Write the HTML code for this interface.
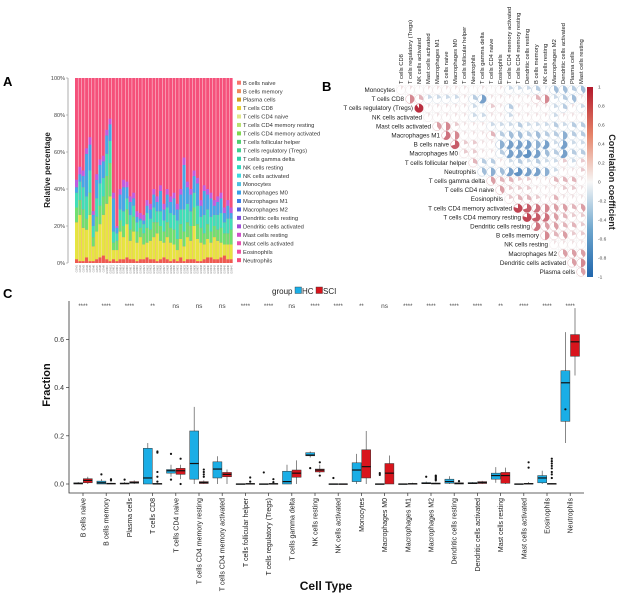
<!DOCTYPE html>
<html><head><meta charset="utf-8"><style>
html,body{margin:0;padding:0;background:#fff;}
svg{display:block;font-family:"Liberation Sans",sans-serif;}
</style></head><body>
<svg id="fig" width="617" height="596" viewBox="0 0 617 596" xmlns="http://www.w3.org/2000/svg">
<text x="3" y="86" font-size="13" font-weight="bold">A</text>
<text x="322" y="91" font-size="13" font-weight="bold">B</text>
<text x="3" y="298" font-size="13" font-weight="bold">C</text>
<g id="pa"></g>
<g id="pb"></g>
<g id="pc"></g>
</svg>
<script>
// ---------- Panel A data ----------
const legendA = ["B cells naive","B cells memory","Plasma cells","T cells CD8","T cells CD4 naive","T cells CD4 memory resting","T cells CD4 memory activated","T cells follicular helper","T cells regulatory (Tregs)","T cells gamma delta","NK cells resting","NK cells activated","Monocytes","Macrophages M0","Macrophages M1","Macrophages M2","Dendritic cells resting","Dendritic cells activated","Mast cells resting","Mast cells activated","Eosinophils","Neutrophils"];
const redA = [2,1,1,3,1,1,2,3,4,2,1,2,1,2,2,3,2,2,1,2,2,3,2,2,1,2,3,2,1,2,1,3,1,2,2,2,1,1,2,3,3,2,2,3,4,2,2];
const yellowA = [20,25,18,15,25,8,15,18,22,30,35,5,6,15,12,18,10,15,10,12,8,8,10,12,15,10,8,12,10,8,6,10,8,12,10,18,12,10,8,10,8,12,10,8,6,8,8];
const greenA = [8,8,10,6,12,5,8,10,10,15,18,4,5,6,6,8,6,8,6,5,6,8,6,8,6,8,6,8,8,8,6,8,8,8,8,10,8,8,6,8,6,6,6,8,6,6,8];
const tealA = [8,10,12,12,12,6,10,12,10,12,12,6,4,6,8,6,8,6,5,4,5,8,6,8,6,8,6,8,8,8,10,8,12,10,8,8,10,6,10,8,8,6,8,8,6,8,6];
const blueA = [3,4,6,23,14,6,10,10,9,10,9,18,3,8,13,6,7,4,3,1,2,4,5,7,5,11,6,7,6,9,6,8,24,9,9,9,12,6,13,8,10,5,7,8,5,7,3];
const purpleA = [4,4,3,3,4,2,3,3,3,3,3,3,1,3,4,3,3,3,3,3,3,3,3,3,3,3,3,3,3,3,3,3,4,3,3,3,3,3,3,3,3,3,3,3,3,3,3];
const ticksA = ["0%","20%","40%","60%","80%","100%"];

// ---------- Panel B data ----------
const corrVars = ["Monocytes","T cells CD8","T cells regulatory (Tregs)","NK cells activated","Mast cells activated","Macrophages M1","B cells naive","Macrophages M0","T cells follicular helper","Neutrophils","T cells gamma delta","T cells CD4 naive","Eosinophils","T cells CD4 memory activated","T cells CD4 memory resting","Dendritic cells resting","B cells memory","NK cells resting","Macrophages M2","Dendritic cells activated","Plasma cells","Mast cells resting"];
const corrRows = [
[0.1,0.1,0.05,0.1,0.1,0.1,0.1,0.1,0.05,0.1,0.05,0.1,-0.2,-0.2,-0.2,-0.3,-0.1,-0.4,-0.4,-0.3,-0.4],
[0.5,0.3,-0.2,-0.2,-0.2,-0.2,0.1,-0.3,-0.6,0.1,0.1,0.1,0.1,0.1,0.3,0.5,-0.2,-0.3,-0.4,0.1],
[0.9,0.1,0.1,0.1,0.1,0.1,-0.2,-0.1,0.2,0.1,-0.3,0.1,0.1,0.1,0.1,-0.2,-0.3,0.1,-0.2],
[0.1,0.1,0.1,0.1,0.1,-0.2,-0.2,0.1,0.1,-0.2,0.1,0.1,0.1,0.1,-0.2,0.1,0.1,0.1],
[0.4,0.5,0.2,0.1,0.1,0.1,-0.2,-0.2,-0.2,-0.3,-0.2,-0.2,-0.2,-0.3,-0.2,-0.3,-0.3],
[0.6,0.5,0.1,0.1,0.1,0.3,-0.3,-0.4,-0.4,-0.3,-0.4,-0.3,-0.3,-0.5,-0.3,-0.3],
[0.7,0.2,0.2,0.1,0.1,-0.5,-0.6,-0.6,-0.6,-0.5,-0.6,-0.2,-0.6,-0.2,-0.2],
[0.2,0.2,0.1,0.1,-0.3,-0.6,-0.6,-0.7,-0.6,-0.4,-0.3,-0.6,-0.3,-0.3],
[0.3,-0.3,-0.3,0.1,-0.2,-0.3,-0.2,-0.3,-0.2,-0.2,0.2,-0.2,0.2],
[-0.4,-0.5,-0.4,-0.6,-0.7,-0.6,-0.6,-0.5,-0.2,0.1,0.1,0.2],
[0.4,0.3,0.3,0.2,0.2,0.1,0.1,0.3,0.3,0.3,0.1],
[0.4,0.2,0.2,0.2,0.1,0.1,0.1,0.2,0.2,0.1],
[0.2,0.3,0.3,0.2,0.1,0.3,0.1,0.1,0.1],
[0.8,0.7,0.6,0.5,0.4,0.4,0.3,0.4],
[0.8,0.7,0.6,0.4,0.3,0.2,0.2],
[0.6,0.4,0.4,0.3,0.3,0.2],
[0.5,0.3,0.4,0.2,0.2],
[0.1,0.1,0.1,0.1],
[0.4,0.4,0.4],
[0.4,0.5],
[0.4]
];
const cbTicks = ["1","0.8","0.6","0.4","0.2","0","-0.2","-0.4","-0.6","-0.8","-1"];

// ---------- Panel C data ----------
const cellTypes = ["B cells naive","B cells memory","Plasma cells","T cells CD8","T cells CD4 naive","T cells CD4 memory resting","T cells CD4 memory activated","T cells follicular helper","T cells regulatory (Tregs)","T cells gamma delta","NK cells resting","NK cells activated","Monocytes","Macrophages M0","Macrophages M1","Macrophages M2","Dendritic cells resting","Dendritic cells activated","Mast cells resting","Mast cells activated","Eosinophils","Neutrophils"];
const sigLabels = ["****","****","****","**","ns","ns","ns","****","****","ns","****","****","**","ns","****","****","****","****","**","****","****","****"];
const hcStats = [[0,0,0.002,0.005,0.008],[0,0,0.005,0.012,0.02],[0,0,0.002,0.004,0.008],[0,0,0.025,0.148,0.17],[0.03,0.045,0.055,0.06,0.08],[0,0.02,0.085,0.22,0.32],[0,0.025,0.062,0.092,0.115],[0,0,0,0.001,0.002],[0,0,0,0.001,0.002],[0,0,0.01,0.053,0.08],[0.11,0.117,0.12,0.13,0.135],[0,0,0,0.001,0.002],[0,0.01,0.058,0.088,0.125],[0,0,0,0.001,0.002],[0,0,0,0.001,0.002],[0,0.001,0.003,0.006,0.01],[0,0.003,0.01,0.02,0.032],[0,0.001,0.003,0.006,0.008],[0.005,0.02,0.035,0.045,0.07],[0,0,0,0.001,0.002],[0,0.005,0.025,0.035,0.055],[0.17,0.26,0.42,0.47,0.63]];
const sciStats = [[0,0.005,0.015,0.022,0.03],[0,0,0.002,0.003,0.005],[0,0.003,0.006,0.01,0.015],[0,0,0.001,0.002,0.003],[0.02,0.04,0.055,0.065,0.08],[0,0.002,0.006,0.01,0.015],[0,0.03,0.04,0.048,0.06],[0,0,0.001,0.002,0.004],[0,0,0.001,0.002,0.003],[0,0.028,0.045,0.058,0.098],[0.045,0.05,0.058,0.062,0.08],[0,0,0,0.001,0.001],[0,0.025,0.072,0.142,0.22],[0,0,0.045,0.085,0.118],[0,0,0.001,0.002,0.005],[0,0,0.002,0.004,0.006],[0,0,0.002,0.005,0.008],[0,0.002,0.006,0.01,0.013],[0,0.003,0.035,0.048,0.068],[0,0,0.001,0.003,0.008],[0,0,0.001,0.002,0.003],[0.45,0.53,0.59,0.62,0.73]];
const hcOut = [[],[0.04],[0.018],[],[0.125,0.018],[],[],[],[0.048],[],[0.066],[0.025],[],[0.045,0.038],[],[0.03],[],[],[],[],[],[0.31]];
const sciOut = [[],[0.02,0.015],[],[0.13,0.135,0.05,0.03,0.01],[0.105,0],[0.06,0.05,0.04,0.03],[],[0.027,0.01],[0.02,0.008],[],[0.09,0.035],[],[],[],[],[0.035,0.03,0.025,0.02,0.015],[0.012],[],[],[0.09,0.068],[0.105,0.095,0.085,0.075,0.065,0.05,0.04,0.025],[]];
const ticksC = [0,0.2,0.4,0.6];

const NS="http://www.w3.org/2000/svg";
function mk(tag, attrs, parent){const e=document.createElementNS(NS,tag);for(const k in attrs)e.setAttribute(k,attrs[k]);parent.appendChild(e);return e;}

// ===== Panel A =====
(function(){
  const g=document.getElementById('pa');
  const x0=75,x1=233,yTop=78,yBot=263;
  const n=redA.length, bw=(x1-x0)/n;
  const yS=v=>yBot-(v/100)*(yBot-yTop);
  const layers=[redA,yellowA,greenA,tealA,blueA,purpleA];
  const cols=["#ee5a4f","#e6e640","#6fe070","#40dfb8","#45a8e8","#c05ce0"];
  for(let i=0;i<n;i++){
    let cum=0;
    const x=x0+i*bw;
    const bg=mk('rect',{x:x,y:yTop,width:bw-0.4,height:yBot-yTop,fill:"#f5507a"},g);
    
    
    for(let l=0;l<layers.length;l++){
      const v=layers[l][i];
      const r=mk('rect',{x:x,y:yS(cum+v),width:bw-0.4,height:yS(cum)-yS(cum+v),fill:cols[l]},g);
      
      
      cum+=v;
    }
    const t=mk('text',{x:0,y:0,'font-size':2.6,fill:'#777','text-anchor':'end',transform:`translate(${x+bw/2+1},${yBot+2}) rotate(-90)`},g);
    
    
    t.textContent='GSM'+(i+1);
  }
  const ax=mk('line',{x1:68,y1:yTop,x2:68,y2:yBot,stroke:'#999','stroke-width':0.8},g);
  
  
  ticksA.forEach((t,i)=>{
    const y=yS(i*20);
    mk('line',{x1:66,y1:y,x2:68,y2:y,stroke:'#999','stroke-width':0.6},g);
    const tx=mk('text',{x:65,y:y+1.8,'font-size':5.5,fill:'#444','text-anchor':'end'},g);
    
    
    tx.textContent=t;
  });
  const yt=mk('text',{x:0,y:0,'font-size':8,'font-weight':'bold','text-anchor':'middle',transform:'translate(50,170) rotate(-90)',fill:'#222'},g);
  
  
  yt.textContent='Relative percentage';
  const lc=["#f8766d","#f08a5d","#d4a020","#e8d030","#e2e68a","#b8e070","#80d850","#50d070","#40d090","#30d0a8","#30d8c0","#40d8e0","#50c0e0","#3aa0e8","#4080e8","#5060e0","#8050e0","#a050d8","#d050c8","#e850b0","#f050a0","#f5507a"];
  legendA.forEach((name,i)=>{
    const y=83+i*8.45;
    const r=mk('rect',{x:237,y:y-2.3,width:4,height:4,fill:lc[i]},g);
    
    
    const t=mk('text',{x:243,y:y+1.8,'font-size':5.8,fill:'#333'},g);
    
    
    t.textContent=name;
  });
})();

// ===== Panel B =====
(function(){
  const g=document.getElementById('pb');
  const cx=j=>401+j*9, cy=i=>90+i*9.1;
  function col(r){
    const a=Math.abs(r);
    const c0=[247,247,247], c1=r>0?[178,24,43]:[33,102,172];
    const m=c0.map((v,k)=>Math.round(v+(c1[k]-v)*a));
    return `rgb(${m[0]},${m[1]},${m[2]})`;
  }
  for(let j=0;j<21;j++){
    const t=mk('text',{x:0,y:0,'font-size':5.8,fill:'#222',transform:`translate(${cx(j)+2},84) rotate(-90)`},g);
    
    
    t.textContent=corrVars[j+1];
  }
  corrRows.forEach((row,i)=>{
    const t=mk('text',{x:cx(i)-6,y:cy(i)+2,'font-size':6.3,fill:'#222','text-anchor':'end'},g);
    
    
    t.textContent=corrVars[i];
    row.forEach((r,k)=>{
      const j=i+k, x=cx(j), y=cy(i), R=4.3;
      const bg=mk('rect',{x:x-4.5,y:y-4.55,width:9,height:9.1,fill:'#fff',stroke:'#eee','stroke-width':0.3},g);
      
      
      const c=mk('circle',{cx:x,cy:y,r:R,fill:'none',stroke:col(r*0.7),'stroke-width':0.5},g);
      
      
      const a=Math.abs(r)*2*Math.PI;
      let d;
      if(Math.abs(r)>=0.999){d=`M${x-R},${y}a${R},${R} 0 1,0 ${2*R},0a${R},${R} 0 1,0 ${-2*R},0`;}
      else{
        const ex=x+R*Math.sin(a), ey=y-R*Math.cos(a);
        d=`M${x},${y}L${x},${y-R}A${R},${R} 0 ${a>Math.PI?1:0},1 ${ex},${ey}Z`;
      }
      const p=mk('path',{d:d,fill:col(r)},g);
      
      
    });
  });
  const defs=mk('defs',{},g);
  const lg=mk('linearGradient',{id:'cbg',x1:0,y1:0,x2:0,y2:1},defs);
  [["0","#b2182b"],["0.25","#e58368"],["0.5","#f7f7f7"],["0.75","#6ea6cd"],["1","#2166ac"]].forEach(s=>mk('stop',{offset:s[0],'stop-color':s[1]},lg));
  const cb=mk('rect',{x:587,y:87,width:6,height:190,fill:'url(#cbg)'},g);
  
  
  cbTicks.forEach((t,i)=>{
    const y=87+i*19;
    const tx=mk('text',{x:598,y:y+1.7,'font-size':4.8,fill:'#444'},g);
    
    
    tx.textContent=t;
  });
  const ct=mk('text',{x:0,y:0,'font-size':9,'font-weight':'bold','text-anchor':'middle',fill:'#222',transform:'translate(609,182) rotate(90)'},g);
  
  
  ct.textContent='Correlation coefficient';
})();

// ===== Panel C =====
(function(){
  const g=document.getElementById('pc');
  const yS=v=>484-v*(48.2/0.2);
  const gx=i=>83+i*23.2;
  const ax=mk('path',{d:'M69,301V493H584',fill:'none',stroke:'#333','stroke-width':0.8},g);
  
  
  ticksC.forEach(v=>{
    const y=yS(v);
    mk('line',{x1:66,y1:y,x2:69,y2:y,stroke:'#333','stroke-width':0.7},g);
    const t=mk('text',{x:64,y:y+2.5,'font-size':7,fill:'#333','text-anchor':'end'},g);
    
    
    t.textContent=v.toFixed(1);
  });
  const yt=mk('text',{x:0,y:0,'font-size':11,'font-weight':'bold','text-anchor':'middle',fill:'#111',transform:'translate(50,385) rotate(-90)'},g);
  
  
  yt.textContent='Fraction';
  const xt=mk('text',{x:326,y:590,'font-size':12,'font-weight':'bold','text-anchor':'middle',fill:'#111'},g);
  
  
  xt.textContent='Cell Type';
  function box(cx,s,fill,outs){
    const w=9;
    const wl=mk('line',{x1:cx,y1:yS(s[0]),x2:cx,y2:yS(s[4]),stroke:'#555','stroke-width':0.7},g);
    
    
    const b=mk('rect',{x:cx-w/2,y:yS(s[3]),width:w,height:Math.max(0.8,yS(s[1])-yS(s[3])),fill:fill,stroke:'#333','stroke-width':0.5},g);
    
    
    const m=mk('line',{x1:cx-w/2,y1:yS(s[2]),x2:cx+w/2,y2:yS(s[2]),stroke:'#111','stroke-width':1.2},g);
    
    
    outs.forEach(o=>{
      const c=mk('circle',{cx:cx,cy:yS(o),r:1.1,fill:'#111'},g);
      
      
    });
  }
  cellTypes.forEach((name,i)=>{
    const cx=gx(i);
    box(cx-4.8,hcStats[i],'#1aaee6',hcOut[i]);
    box(cx+4.8,sciStats[i],'#d8141c',sciOut[i]);
    mk('line',{x1:cx,y1:493,x2:cx,y2:496,stroke:'#333','stroke-width':0.7},g);
    const t=mk('text',{x:0,y:0,'font-size':7,fill:'#222','text-anchor':'end',transform:`translate(${cx+2.5},498) rotate(-90)`},g);
    
    
    t.textContent=name;
    const s=mk('text',{x:cx,y:308,'font-size':sigLabels[i]==='ns'?6.5:6,fill:'#444','text-anchor':'middle'},g);
    
    
    s.textContent=sigLabels[i];
  });
  const lt=mk('text',{x:272,y:294,'font-size':8,fill:'#222'},g);
  
  
  lt.textContent='group';
  [[295,'#1aaee6','HC'],[316,'#d8141c','SCI']].forEach(e=>{
    const r=mk('rect',{x:e[0],y:287,width:6.5,height:6.5,fill:e[1],stroke:'#333','stroke-width':0.4},g);
    
    
    const t=mk('text',{x:e[0]+7,y:294,'font-size':8,fill:'#222'},g);
    
    
    t.textContent=e[2];
  });
})();
</script>
</body></html>
